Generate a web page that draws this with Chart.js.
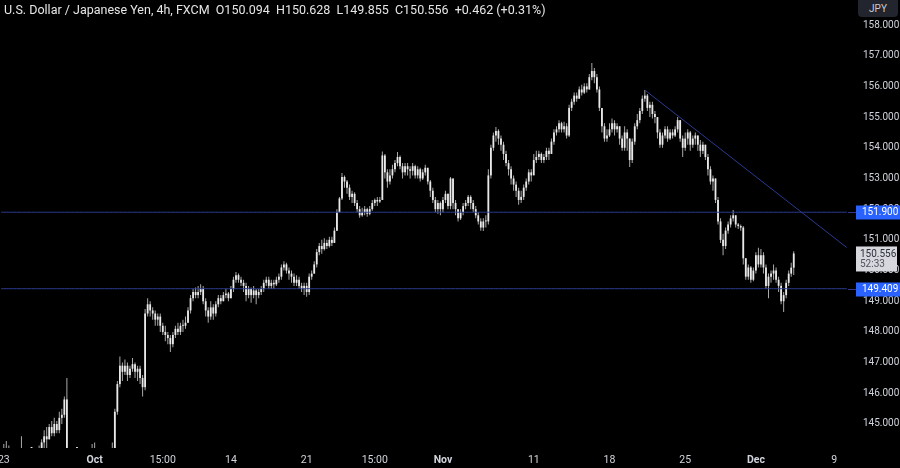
<!DOCTYPE html>
<html>
<head>
<meta charset="utf-8">
<script src="https://cdn.jsdelivr.net/npm/chart.js@4.4.1/dist/chart.umd.min.js"></script>
<style>
  html, body { margin: 0; padding: 0; background: #000; }
  #wrap { position: relative; width: 900px; height: 468px; }
  #title { position: absolute; left: 4px; top: 2px; font: 12.5px Roboto, sans-serif; color: #e6e6e6; white-space: pre; }
  #cur { position: absolute; left: 858px; top: -4px; width: 40px; height: 21px; border-radius: 4px;
         background: #22252e; color: #c8cbd3; font: 10px Roboto, sans-serif; text-align: center; line-height: 25px; }
</style>
</head>
<body>
<div id="wrap">
  <canvas id="chart" width="900" height="468"></canvas>
  <div id="title">U.S. Dollar / Japanese Yen, 4h, FXCM  O150.094  H150.628  L149.855  C150.556  +0.462 (+0.31%)</div>
  <div id="cur">JPY</div>
</div>
<script>
// 4h candles, Sep 20 (last bar) .. Dec 4; open of each bar = previous close
const firstOpen = 143.95;
const closes = [
  143.9,
  144.05, 144.1, 143.9, 143.6, 143.7, 143.6,      // Sep 23
  143.8, 144.1, 143.5, 143.3, 143.2, 143.2,       // Sep 24
  142.8, 143.4, 144.1, 144.4, 144.6, 144.5,       // Sep 25
  144.9, 144.7, 145.0, 144.8, 145.2, 145.3,       // Sep 26
  145.8, 143.2, 142.6, 142.3, 142.2, 142.2,       // Sep 27
  142.0, 141.9, 142.5, 143.1, 143.4, 143.6,       // Sep 30
  143.9, 143.7, 143.5, 143.3, 143.5, 143.6,       // Oct 1
  143.8, 144.1, 145.4, 146.3, 146.9, 146.7,       // Oct 2
  146.9, 146.6, 146.8, 146.95, 146.7, 146.8,      // Oct 3
  146.5, 146.2, 148.6, 148.9, 148.7, 148.6,       // Oct 4
  148.4, 148.5, 148.2, 148.0, 147.9, 147.8,       // Oct 7
  147.6, 147.9, 148.1, 148.0, 148.2, 148.2,       // Oct 8
  148.3, 148.7, 149.1, 149.3, 149.2, 149.3,       // Oct 9
  149.4, 149.0, 148.7, 148.5, 148.8, 148.6,       // Oct 10
  148.9, 149.1, 149.0, 149.2, 149.25, 149.1,      // Oct 11
  149.4, 149.7, 149.85, 149.7, 149.6, 149.5,      // Oct 14
  149.2, 149.4, 149.2, 149.35, 149.2, 149.3,      // Oct 15
  149.4, 149.6, 149.7, 149.5, 149.6, 149.55,      // Oct 16
  149.7, 149.8, 150.1, 150.2, 150.0, 149.9,       // Oct 17
  149.8, 149.6, 149.7, 149.5, 149.4, 149.5,       // Oct 18
  149.3, 149.8, 149.9, 150.2, 150.6, 150.8,       // Oct 21
  150.7, 150.9, 150.8, 151.0, 150.9, 151.3,       // Oct 22
  151.9, 152.35, 153.05, 152.9, 152.7, 152.4,     // Oct 23
  152.5, 152.2, 152.0, 151.8, 151.9, 152.0,       // Oct 24
  151.85, 152.0, 152.2, 152.3, 152.25, 152.3,     // Oct 25
  153.75, 153.2, 152.9, 153.1, 153.3, 153.5,      // Oct 28
  153.7, 153.4, 153.2, 153.4, 153.3, 153.25,      // Oct 29
  153.4, 153.1, 153.3, 153.0, 153.2, 153.35,      // Oct 30
  152.9, 152.6, 152.3, 152.0, 152.2, 152.0,       // Oct 31
  152.3, 152.5, 152.1, 153.0, 152.2, 152.0,       // Nov 1
  151.7, 151.9, 152.1, 152.2, 152.4, 152.2,       // Nov 4
  152.0, 151.8, 151.6, 151.4, 151.6, 151.6,       // Nov 5
  153.1, 154.0, 154.4, 154.55, 154.3, 154.1,      // Nov 6
  153.8, 153.5, 153.3, 153.0, 152.8, 152.6,       // Nov 7
  152.3, 152.4, 152.7, 152.9, 153.2, 153.1,       // Nov 8
  153.6, 153.7, 153.8, 153.6, 153.7, 153.9,       // Nov 11
  153.8, 154.2, 154.5, 154.6, 154.8, 154.6,       // Nov 12
  154.7, 154.4, 155.3, 155.5, 155.7, 155.6,       // Nov 13
  155.9, 155.8, 156.0, 155.9, 156.3, 156.5,       // Nov 14
  156.3, 155.9, 155.3, 154.7, 154.3, 154.4,       // Nov 15
  154.6, 154.8, 154.6, 154.7, 154.3, 154.0,       // Nov 18
  154.5, 154.3, 153.6, 154.2, 154.7, 154.9,       // Nov 19
  155.2, 155.6, 155.7, 155.3, 155.4, 155.1,       // Nov 20
  155.0, 154.5, 154.1, 154.4, 154.6, 154.3,       // Nov 21
  154.5, 154.4, 154.6, 154.9, 154.3, 154.0,       // Nov 22
  154.3, 154.5, 154.1, 154.3, 154.4, 154.1,       // Nov 25
  153.9, 154.1, 153.7, 153.3, 152.9, 153.0,       // Nov 26
  152.3, 151.6, 151.0, 150.8, 151.3, 151.5,       // Nov 27
  151.7, 151.8, 151.5, 151.45, 151.4, 150.4,      // Nov 28
  149.8, 150.1, 149.7, 150.0, 150.5, 150.2,       // Nov 29
  150.5, 150.1, 149.5, 149.8, 149.9, 150.0,       // Dec 2
  149.7, 149.5, 149.0, 149.2, 149.6, 149.9,       // Dec 3
  150.094, 150.556                                // Dec 4
];
const highs = [
  144.1,
  144.35, 144.45, 144.3, 144.0, 143.9, 143.8,
  144.1, 144.6, 144.1, 143.7, 143.5, 143.4,
  143.3, 143.6, 144.3, 144.5, 144.8, 144.9,
  145.0, 145.1, 145.2, 145.1, 145.4, 145.5,
  145.9, 146.5, 143.3, 142.8, 142.6, 142.4,
  142.4, 142.2, 142.7, 143.3, 143.6, 144.35,
  144.4, 144.0, 143.8, 143.6, 143.7, 143.8,
  144.0, 144.4, 145.5, 146.4, 147.2, 147.0,
  147.1, 147.0, 146.9, 147.15, 147.0, 146.9,
  146.9, 146.6, 148.75, 149.1, 149.0, 148.8,
  148.7, 148.6, 148.6, 148.3, 148.2, 148.0,
  147.9, 148.0, 148.2, 148.3, 148.3, 148.4,
  148.5, 148.8, 149.2, 149.4, 149.45, 149.5,
  149.55, 149.5, 149.1, 148.8, 149.0, 148.9,
  149.0, 149.2, 149.2, 149.3, 149.4, 149.3,
  149.5, 149.8, 149.95, 149.9, 149.8, 149.7,
  149.6, 149.5, 149.45, 149.5, 149.4, 149.4,
  149.5, 149.7, 149.8, 149.8, 149.7, 149.7,
  149.8, 149.9, 150.2, 150.3, 150.25, 150.1,
  150.0, 149.9, 149.85, 149.8, 149.6, 149.6,
  149.6, 149.9, 150.0, 150.3, 150.7, 150.9,
  151.0, 151.05, 151.0, 151.1, 151.1, 151.4,
  152.0, 152.4, 153.18, 153.1, 152.95, 152.8,
  152.6, 152.55, 152.3, 152.1, 152.05, 152.1,
  152.05, 152.1, 152.3, 152.35, 152.4, 152.4,
  153.88, 153.8, 153.3, 153.3, 153.45, 153.6,
  153.86, 153.75, 153.5, 153.5, 153.5, 153.4,
  153.5, 153.45, 153.4, 153.35, 153.3, 153.45,
  153.3, 152.95, 152.7, 152.4, 152.3, 152.25,
  152.4, 152.6, 152.5, 153.05, 153.0, 152.3,
  152.0, 152.0, 152.2, 152.3, 152.46, 152.45,
  152.3, 152.1, 151.9, 151.7, 151.7, 151.8,
  153.3, 154.1, 154.5, 154.68, 154.6, 154.4,
  154.2, 153.9, 153.6, 153.4, 153.1, 152.9,
  152.7, 152.6, 152.8, 153.0, 153.3, 153.3,
  153.8, 153.9, 153.9, 153.85, 153.8, 154.0,
  154.0, 154.3, 154.6, 154.7, 154.9, 154.85,
  154.85, 154.8, 155.4, 155.6, 155.8, 155.8,
  156.0, 156.05, 156.1, 156.1, 156.4, 156.76,
  156.6, 156.4, 156.0, 155.3, 154.8, 154.6,
  154.8, 154.95, 154.9, 154.8, 154.7, 154.4,
  154.7, 154.6, 154.3, 154.3, 154.8, 155.1,
  155.3, 155.7, 155.88, 155.75, 155.5, 155.5,
  155.2, 155.0, 154.6, 154.5, 154.7, 154.7,
  154.6, 154.6, 154.7, 155.0, 154.9, 154.4,
  154.5, 154.6, 154.55, 154.4, 154.5, 154.4,
  154.25, 154.2, 154.1, 153.8, 153.4, 153.1,
  153.0, 152.4, 151.7, 151.2, 151.4, 151.6,
  151.8, 151.97, 151.8, 151.55, 151.5, 151.45,
  150.4, 150.2, 150.15, 150.1, 150.6, 150.74,
  150.7, 150.6, 150.2, 149.9, 150.0, 150.2,
  150.1, 149.8, 149.6, 149.3, 149.7, 150.0,
  150.25, 150.628
];
const lows = [
  143.7,
  143.8, 143.95, 143.7, 143.4, 143.4, 143.4,
  143.5, 143.7, 143.3, 143.1, 143.0, 142.9,
  142.5, 142.7, 143.3, 143.9, 144.2, 144.2,
  144.5, 144.6, 144.6, 144.7, 144.7, 145.0,
  145.2, 143.0, 142.3, 142.0, 142.0, 141.9,
  141.7, 141.6, 141.8, 142.4, 142.9, 143.3,
  143.5, 143.4, 143.2, 143.0, 142.9, 143.3,
  143.4, 143.7, 144.0, 145.3, 146.2, 146.4,
  146.6, 146.4, 146.5, 146.7, 146.5, 146.4,
  146.3, 145.9, 146.1, 148.5, 148.5, 148.4,
  148.2, 148.2, 148.0, 147.9, 147.7, 147.6,
  147.35, 147.5, 147.8, 147.9, 147.9, 148.0,
  148.1, 148.3, 148.6, 149.0, 149.1, 149.1,
  149.2, 148.9, 148.5, 148.3, 148.4, 148.4,
  148.5, 148.8, 148.9, 149.0, 149.1, 149.0,
  149.1, 149.3, 149.6, 149.6, 149.5, 149.3,
  149.0, 149.1, 148.95, 149.1, 148.9, 149.1,
  149.2, 149.3, 149.5, 149.4, 149.4, 149.4,
  149.5, 149.6, 149.7, 150.0, 149.9, 149.7,
  149.6, 149.5, 149.5, 149.4, 149.3, 149.2,
  149.15, 149.2, 149.7, 149.9, 150.1, 150.5,
  150.55, 150.65, 150.7, 150.75, 150.8, 150.9,
  151.3, 151.9, 152.3, 152.7, 152.5, 152.3,
  152.2, 152.1, 151.9, 151.72, 151.75, 151.8,
  151.75, 151.8, 151.95, 152.1, 152.1, 152.2,
  152.3, 153.0, 152.7, 152.8, 153.0, 153.2,
  153.4, 153.3, 153.0, 153.1, 153.1, 153.0,
  153.1, 153.0, 153.0, 152.9, 152.95, 153.1,
  152.8, 152.4, 152.2, 151.9, 151.85, 151.8,
  151.9, 152.2, 152.0, 152.0, 152.0, 151.8,
  151.6, 151.65, 151.8, 152.0, 152.1, 152.0,
  151.9, 151.7, 151.5, 151.3, 151.29, 151.4,
  151.5, 153.0, 153.9, 154.2, 154.1, 153.9,
  153.6, 153.4, 153.1, 152.8, 152.6, 152.4,
  152.14, 152.2, 152.3, 152.6, 152.8, 152.9,
  153.4, 153.5, 153.6, 153.5, 153.5, 153.6,
  153.6, 153.8, 154.1, 154.4, 154.5, 154.5,
  154.5, 154.3, 154.35, 155.2, 155.4, 155.5,
  155.6, 155.7, 155.75, 155.8, 155.9, 156.2,
  156.1, 155.8, 155.2, 154.5, 154.2, 154.2,
  154.35, 154.5, 154.4, 154.5, 154.1, 153.9,
  153.9, 153.9, 153.37, 153.5, 154.1, 154.6,
  154.8, 155.1, 155.5, 155.2, 155.0, 154.95,
  154.8, 154.3, 154.0, 154.0, 154.3, 154.2,
  154.25, 154.3, 154.35, 154.5, 154.2, 153.7,
  153.9, 154.1, 153.9, 154.0, 154.1, 153.9,
  153.7, 153.8, 153.6, 153.1, 152.8, 152.6,
  152.2, 151.5, 150.9, 150.5, 150.7, 151.2,
  151.4, 151.6, 151.4, 151.35, 151.3, 150.2,
  149.7, 149.7, 149.6, 149.65, 149.9, 150.1,
  150.1, 149.9, 149.4, 149.1, 149.6, 149.7,
  149.6, 149.3, 148.9, 148.65, 149.1, 149.5,
  149.8, 149.855
];

// bar slots on the time axis (data + empty space on the right)
const slotCount = 336;
const xTickIdx  = [1, 37, 64, 91, 121, 148, 175, 211, 241, 271, 299, 330];
const xTickText = ['23', 'Oct', '15:00', '14', '21', '15:00', 'Nov', '11', '18', '25', 'Dec', '9'];
const boldTicks = ['Oct', 'Nov', 'Dec'];
const yTicks = [145, 146, 147, 148, 149, 150, 151, 152, 153, 154, 155, 156, 157, 158];
const yMin = 144.218, yMax = 158.815;

const levels = [151.9, 149.409];
const trendIdx = [255, 335];
const trendVals = [155.88, 150.75];
const lastPrice = 150.556;
const countdown = '52:33';

const lineColor = '#2b3a8f';
const tagBlue = '#2962ff';

const labels = Array.from({length: slotCount}, (_, i) => String(i));
const wickData = lows.map((l, i) => [l, highs[i]]);
const bodyData = closes.map((c, i) => [i === 0 ? firstOpen : closes[i - 1], c]);
const trendData = labels.map((_, i) => {
    const k = trendIdx.indexOf(i);
    return k >= 0 ? trendVals[k] : null;
});
const levelSets = levels.map(v => ({
    type: 'line',
    data: labels.map(() => v),
    borderColor: lineColor,
    borderWidth: 1,
    pointRadius: 0,
    order: 0
}));

const tagPlugin = {
    id: 'tags',
    afterDraw(chart) {
        const c = chart.ctx;
        const y = chart.scales.y;
        const right = chart.chartArea.right;
        c.save();
        c.font = '10px Roboto, sans-serif';
        c.textBaseline = 'middle';
        levels.forEach(v => {
            const py = Math.round(y.getPixelForValue(v)) + 0.5;
            c.strokeStyle = lineColor;
            c.lineWidth = 1;
            c.beginPath();
            c.moveTo(right, py);
            c.lineTo(856, py);
            c.stroke();
            c.fillStyle = tagBlue;
            c.fillRect(856, py - 7, 44, 14);
            c.fillStyle = '#ffffff';
            c.fillText(v.toFixed(3), 862, py);
        });
        const lp = y.getPixelForValue(lastPrice);
        c.fillStyle = '#d6d8de';
        c.fillRect(856, lp - 7, 41, 25);
        c.fillStyle = '#2a2e39';
        c.fillText(lastPrice.toFixed(3), 860, lp + 1);
        c.fillStyle = '#50535e';
        c.fillText(countdown, 860, lp + 11);
        c.restore();
    }
};

new Chart(document.getElementById('chart'), {
    type: 'bar',
    data: {
        labels: labels,
        datasets: [
            ...levelSets,
            {
                type: 'line',
                data: trendData,
                spanGaps: true,
                borderColor: lineColor,
                borderWidth: 1,
                pointRadius: 0,
                order: 0
            },
            {
                type: 'bar',
                data: wickData,
                backgroundColor: '#a9a9a9',
                barThickness: 1,
                inflateAmount: 0,
                grouped: false,
                order: 2
            },
            {
                type: 'bar',
                data: bodyData,
                backgroundColor: '#e9e9e9',
                barThickness: 1.8,
                minBarLength: 1,
                inflateAmount: 0,
                grouped: false,
                order: 1
            }
        ]
    },
    options: {
        responsive: false,
        animation: false,
        layout: { padding: 0 },
        plugins: {
            legend: { display: false },
            tooltip: { enabled: false }
        },
        scales: {
            x: {
                type: 'category',
                offset: true,
                grid: { display: false, drawTicks: false },
                border: { display: false },
                ticks: {
                    autoSkip: false,
                    maxRotation: 0,
                    padding: 6,
                    color: '#d1d4dc',
                    font: ctx => ({
                        family: 'Roboto, sans-serif',
                        size: 10.5,
                        weight: boldTicks.includes(ctx.tick && ctx.tick.label) ? 'bold' : 'normal'
                    }),
                    callback: (v, i) => xTickText[i]
                },
                afterBuildTicks: axis => { axis.ticks = xTickIdx.map(v => ({ value: v })); },
                afterFit: axis => {
                    axis.height = 20;
                    axis.paddingLeft = 0;
                    axis.paddingRight = 0;
                }
            },
            y: {
                position: 'right',
                min: yMin,
                max: yMax,
                grid: { display: false, drawTicks: false },
                border: { display: false },
                ticks: {
                    padding: 15,
                    color: '#d1d4dc',
                    font: { family: 'Roboto, sans-serif', size: 10 },
                    callback: v => Number(v).toFixed(3)
                },
                afterBuildTicks: axis => { axis.ticks = yTicks.map(v => ({ value: v })); },
                afterFit: axis => {
                    axis.width = 52;
                    axis.paddingTop = 0;
                    axis.paddingBottom = 0;
                }
            }
        }
    },
    plugins: [tagPlugin]
});
</script>
</body>
</html>
